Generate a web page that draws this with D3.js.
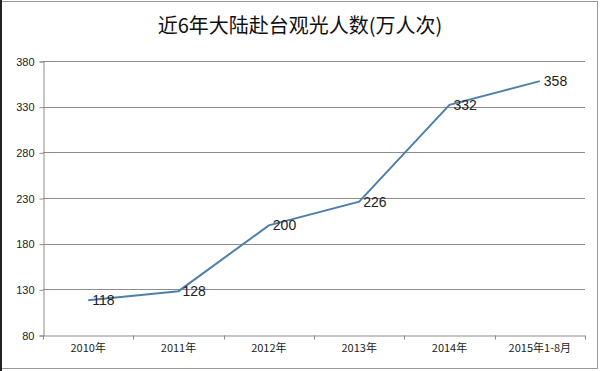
<!DOCTYPE html>
<html>
<head>
  <meta charset="utf-8">
  <title>近6年大陆赴台观光人数</title>
  <script type="text/javascript" src="https://cdn.jsdelivr.net/npm/d3@7"></script>
  <style type="text/css">
    body { margin: 0; background: #fff; }
    svg { display: block; }
  </style>
</head>
<body>
  <script type="text/javascript">

    // Data
    const years = ["2010年", "2011年", "2012年", "2013年", "2014年", "2015年1-8月"];
    const visitors = [118, 128, 200, 226, 332, 358];
    const yTicks = [80, 130, 180, 230, 280, 330, 380];

    // Width and height
    const w = 600;
    const h = 371;
    const margin = { left: 43, right: 15, top: 61, bottom: 36 };

    const svg = d3.select("body")
      .append("svg")
      .attr("width", w)
      .attr("height", h);

    // Frame
    svg.append("rect")
      .attr("x", 1.5).attr("y", 1.5)
      .attr("width", w - 4).attr("height", h - 4)
      .attr("fill", "#fff")
      .attr("stroke", "#999");
    svg.append("line")
      .attr("x1", 1).attr("x2", 1).attr("y1", 0).attr("y2", h)
      .attr("stroke", "#222").attr("stroke-width", 2);

    // Title
    svg.append("text")
      .attr("x", 300).attr("y", 33)
      .attr("text-anchor", "middle")
      .attr("font-family", "Noto Sans CJK SC")
      .attr("font-size", 20)
      .attr("fill", "#111")
      .text("近6年大陆赴台观光人数(万人次)");

    // Scales
    const x = d3.scaleBand()
      .domain(years)
      .range([margin.left, w - margin.right]);

    const y = d3.scaleLinear()
      .domain([80, 380])
      .range([h - margin.bottom, margin.top]);

    // Gridlines
    svg.append("g")
      .selectAll("line")
      .data(yTicks.slice(1))
      .enter()
      .append("line")
      .attr("x1", margin.left)
      .attr("x2", w - margin.right)
      .attr("y1", d => Math.round(y(d)) + 0.5)
      .attr("y2", d => Math.round(y(d)) + 0.5)
      .attr("stroke", "#8c8c8c");

    // Y axis
    const yAxis = svg.append("g")
      .attr("transform", "translate(" + (margin.left + 0.5) + ",0.5)")
      .call(d3.axisLeft(y).tickValues(yTicks).tickSize(4).tickPadding(5));
    yAxis.select(".domain").attr("stroke", "#8c8c8c");
    yAxis.selectAll(".tick line").attr("stroke", "#8c8c8c");
    yAxis.selectAll("text")
      .attr("font-family", "Liberation Sans, Arial")
      .attr("font-size", 11)
      .attr("fill", "#222");

    // X axis
    const xAxis = svg.append("g")
      .attr("transform", "translate(0," + (Math.round(y(80)) + 0.5) + ")")
      .call(d3.axisBottom(x).tickSize(0).tickPadding(9));
    xAxis.select(".domain").attr("stroke", "#8c8c8c");
    xAxis.selectAll("text")
      .attr("font-family", "Noto Sans CJK SC")
      .attr("font-size", 11)
      .attr("fill", "#222");

    // Category boundary ticks
    xAxis.append("g")
      .selectAll("line")
      .data(years.concat(["end"]))
      .enter()
      .append("line")
      .attr("x1", (d, i) => Math.round(margin.left + i * x.bandwidth()) + 0.5)
      .attr("x2", (d, i) => Math.round(margin.left + i * x.bandwidth()) + 0.5)
      .attr("y1", 0).attr("y2", 4)
      .attr("stroke", "#8c8c8c");

    // Line
    const line = d3.line()
      .x((d, i) => x(years[i]) + x.bandwidth() / 2)
      .y(d => y(d));

    svg.append("path")
      .datum(visitors)
      .attr("d", line)
      .attr("fill", "none")
      .attr("stroke", "#4f7fab")
      .attr("stroke-width", 2);

    // Data labels
    svg.append("g")
      .selectAll("text")
      .data(visitors)
      .enter()
      .append("text")
      .attr("x", (d, i) => x(years[i]) + x.bandwidth() / 2 + 4)
      .attr("y", d => y(d))
      .attr("dy", "0.35em")
      .attr("font-family", "Liberation Sans, Arial")
      .attr("font-size", 14)
      .attr("fill", "#222")
      .text(d => d);

  </script>
</body>
</html>
